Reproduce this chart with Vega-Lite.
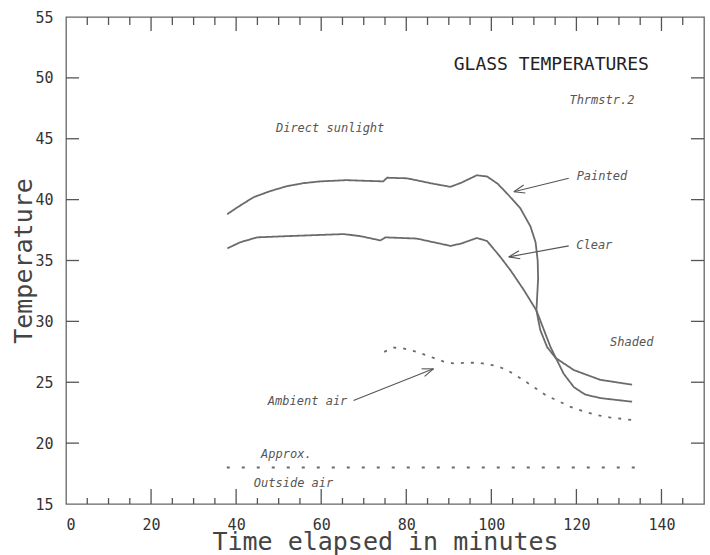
{
  "$schema": "https://vega.github.io/schema/vega-lite/v6.json",
  "width": 638,
  "height": 487,
  "autosize": {"type": "none"},
  "padding": {"left": 66, "top": 17, "right": 6, "bottom": 51},
  "background": "white",
  "config": {
    "view": {"stroke": "#666", "strokeWidth": 1.3},
    "axis": {"grid": false, "ticks": false, "domain": false, "labelColor": "#333", "titleColor": "#444", "labelFont": "DejaVu Sans Mono", "titleFont": "DejaVu Sans Mono", "titleFontWeight": "normal"}
  },
  "datasets": {
    "curves": [
      {"series": "Painted", "i": 1, "t": 37.9, "temp": 38.8},
      {"series": "Painted", "i": 2, "t": 40, "temp": 39.3},
      {"series": "Painted", "i": 3, "t": 44.1, "temp": 40.2},
      {"series": "Painted", "i": 4, "t": 48, "temp": 40.7},
      {"series": "Painted", "i": 5, "t": 51.9, "temp": 41.1},
      {"series": "Painted", "i": 6, "t": 55.8, "temp": 41.35},
      {"series": "Painted", "i": 7, "t": 59.8, "temp": 41.5},
      {"series": "Painted", "i": 8, "t": 66, "temp": 41.6},
      {"series": "Painted", "i": 9, "t": 70, "temp": 41.55},
      {"series": "Painted", "i": 10, "t": 74.6, "temp": 41.5},
      {"series": "Painted", "i": 11, "t": 75.5, "temp": 41.8},
      {"series": "Painted", "i": 12, "t": 80.2, "temp": 41.75},
      {"series": "Painted", "i": 13, "t": 86.4, "temp": 41.3},
      {"series": "Painted", "i": 14, "t": 90.4, "temp": 41.05},
      {"series": "Painted", "i": 15, "t": 93, "temp": 41.4},
      {"series": "Painted", "i": 16, "t": 96.6, "temp": 42.0},
      {"series": "Painted", "i": 17, "t": 99, "temp": 41.9},
      {"series": "Painted", "i": 18, "t": 101.5, "temp": 41.3},
      {"series": "Painted", "i": 19, "t": 103.7, "temp": 40.5},
      {"series": "Painted", "i": 20, "t": 106.8, "temp": 39.3},
      {"series": "Painted", "i": 21, "t": 109.2, "temp": 37.8},
      {"series": "Painted", "i": 22, "t": 110.4, "temp": 36.5},
      {"series": "Painted", "i": 23, "t": 110.9, "temp": 35.0},
      {"series": "Painted", "i": 24, "t": 111.0, "temp": 33.5},
      {"series": "Painted", "i": 25, "t": 110.8, "temp": 32.2},
      {"series": "Painted", "i": 26, "t": 110.6, "temp": 30.9},
      {"series": "Painted", "i": 27, "t": 111.5, "temp": 29.3},
      {"series": "Painted", "i": 28, "t": 113.1, "temp": 27.9},
      {"series": "Painted", "i": 29, "t": 115.1, "temp": 27.0},
      {"series": "Painted", "i": 30, "t": 119.4, "temp": 26.0},
      {"series": "Painted", "i": 31, "t": 125.6, "temp": 25.2},
      {"series": "Painted", "i": 32, "t": 133.1, "temp": 24.8},
      {"series": "Clear", "i": 1, "t": 37.95, "temp": 36.0},
      {"series": "Clear", "i": 2, "t": 41, "temp": 36.5},
      {"series": "Clear", "i": 3, "t": 44.9, "temp": 36.9},
      {"series": "Clear", "i": 4, "t": 51.9, "temp": 37.0},
      {"series": "Clear", "i": 5, "t": 59.8, "temp": 37.1},
      {"series": "Clear", "i": 6, "t": 65.3, "temp": 37.17},
      {"series": "Clear", "i": 7, "t": 69.2, "temp": 37.0},
      {"series": "Clear", "i": 8, "t": 73.9, "temp": 36.65},
      {"series": "Clear", "i": 9, "t": 75.1, "temp": 36.9},
      {"series": "Clear", "i": 10, "t": 82.5, "temp": 36.8},
      {"series": "Clear", "i": 11, "t": 86.4, "temp": 36.5},
      {"series": "Clear", "i": 12, "t": 90.4, "temp": 36.2},
      {"series": "Clear", "i": 13, "t": 93, "temp": 36.4},
      {"series": "Clear", "i": 14, "t": 96.6, "temp": 36.85},
      {"series": "Clear", "i": 15, "t": 99, "temp": 36.6},
      {"series": "Clear", "i": 16, "t": 102.1, "temp": 35.3},
      {"series": "Clear", "i": 17, "t": 104.5, "temp": 34.2},
      {"series": "Clear", "i": 18, "t": 107.6, "temp": 32.6},
      {"series": "Clear", "i": 19, "t": 110.6, "temp": 30.9},
      {"series": "Clear", "i": 20, "t": 113.9, "temp": 27.9},
      {"series": "Clear", "i": 21, "t": 117, "temp": 25.7},
      {"series": "Clear", "i": 22, "t": 119.4, "temp": 24.6},
      {"series": "Clear", "i": 23, "t": 122, "temp": 24.0},
      {"series": "Clear", "i": 24, "t": 125.6, "temp": 23.7},
      {"series": "Clear", "i": 25, "t": 133.1, "temp": 23.4},
      {"series": "Ambient", "i": 1, "t": 74.8, "temp": 27.5},
      {"series": "Ambient", "i": 2, "t": 77, "temp": 27.85},
      {"series": "Ambient", "i": 3, "t": 79, "temp": 27.8},
      {"series": "Ambient", "i": 4, "t": 82.5, "temp": 27.5},
      {"series": "Ambient", "i": 5, "t": 86.4, "temp": 27.0},
      {"series": "Ambient", "i": 6, "t": 88.8, "temp": 26.7},
      {"series": "Ambient", "i": 7, "t": 91, "temp": 26.55},
      {"series": "Ambient", "i": 8, "t": 94.3, "temp": 26.6},
      {"series": "Ambient", "i": 9, "t": 97, "temp": 26.6},
      {"series": "Ambient", "i": 10, "t": 99, "temp": 26.5},
      {"series": "Ambient", "i": 11, "t": 101.5, "temp": 26.3},
      {"series": "Ambient", "i": 12, "t": 103.7, "temp": 26.0},
      {"series": "Ambient", "i": 13, "t": 107, "temp": 25.3},
      {"series": "Ambient", "i": 14, "t": 110, "temp": 24.6},
      {"series": "Ambient", "i": 15, "t": 113, "temp": 23.9},
      {"series": "Ambient", "i": 16, "t": 115.5, "temp": 23.5},
      {"series": "Ambient", "i": 17, "t": 118.5, "temp": 23.0},
      {"series": "Ambient", "i": 18, "t": 121.7, "temp": 22.6},
      {"series": "Ambient", "i": 19, "t": 125, "temp": 22.3},
      {"series": "Ambient", "i": 20, "t": 128, "temp": 22.1},
      {"series": "Ambient", "i": 21, "t": 133.1, "temp": 21.9},
      {"series": "Outside", "i": 1, "t": 37.8, "temp": 18.0},
      {"series": "Outside", "i": 2, "t": 134.3, "temp": 18.0}
    ],
    "arrows": [
      {"x": 118.2, "y": 41.75, "x2": 105.3, "y2": 40.65},
      {"x": 105.3, "y": 40.65, "x2": 108.0, "y2": 40.54},
      {"x": 105.3, "y": 40.65, "x2": 107.6, "y2": 41.2},
      {"x": 118.2, "y": 36.2, "x2": 104.1, "y2": 35.3},
      {"x": 104.1, "y": 35.3, "x2": 106.8, "y2": 35.14},
      {"x": 104.1, "y": 35.3, "x2": 106.5, "y2": 35.8},
      {"x": 67.6, "y": 23.5, "x2": 86.4, "y2": 26.1},
      {"x": 86.4, "y": 26.1, "x2": 83.6, "y2": 26.1},
      {"x": 86.4, "y": 26.1, "x2": 84.3, "y2": 25.48}
    ],
    "labels": [
      {"text": "Direct sunlight", "t": 62.1, "temp": 45.9},
      {"text": "Thrmstr.2", "t": 126.0, "temp": 48.2},
      {"text": "Painted", "t": 126.0, "temp": 41.9},
      {"text": "Clear", "t": 124.2, "temp": 36.3},
      {"text": "Shaded", "t": 133.0, "temp": 28.3},
      {"text": "Ambient air", "t": 56.8, "temp": 23.5},
      {"text": "Approx.", "t": 51.8, "temp": 19.07},
      {"text": "Outside air", "t": 53.5, "temp": 16.7}
    ],
    "title": [
      {"text": "GLASS TEMPERATURES", "t": 114.1, "temp": 51.05}
    ],
    "xticks": [
      {"v": 5, "kind": "minor"}, {"v": 10, "kind": "minor"}, {"v": 15, "kind": "minor"}, {"v": 20, "kind": "major"},
      {"v": 25, "kind": "minor"}, {"v": 30, "kind": "minor"}, {"v": 35, "kind": "minor"}, {"v": 40, "kind": "major"},
      {"v": 45, "kind": "minor"}, {"v": 50, "kind": "minor"}, {"v": 55, "kind": "minor"}, {"v": 60, "kind": "major"},
      {"v": 65, "kind": "minor"}, {"v": 70, "kind": "minor"}, {"v": 75, "kind": "minor"}, {"v": 80, "kind": "major"},
      {"v": 85, "kind": "minor"}, {"v": 90, "kind": "minor"}, {"v": 95, "kind": "minor"}, {"v": 100, "kind": "major"},
      {"v": 105, "kind": "minor"}, {"v": 110, "kind": "minor"}, {"v": 115, "kind": "minor"}, {"v": 120, "kind": "major"},
      {"v": 125, "kind": "minor"}, {"v": 130, "kind": "minor"}, {"v": 135, "kind": "minor"}, {"v": 140, "kind": "major"},
      {"v": 145, "kind": "minor"}
    ],
    "yticks": [
      {"v": 20}, {"v": 25}, {"v": 30}, {"v": 35}, {"v": 40}, {"v": 45}, {"v": 50}
    ]
  },
  "layer": [
    {
      "data": {"name": "curves"},
      "mark": {"type": "line", "color": "#6b6b6b", "strokeWidth": 1.8, "interpolate": "linear"},
      "encoding": {
        "x": {
          "field": "t", "type": "quantitative",
          "scale": {"domain": [0, 150], "nice": false, "zero": false},
          "axis": {
            "orient": "bottom",
            "values": [0, 20, 40, 60, 80, 100, 120, 140],
            "labelFontSize": 15,
            "labelPadding": 13,
            "title": "Time elapsed in minutes",
            "titleFontSize": 25,
            "titlePadding": -3
          }
        },
        "y": {
          "field": "temp", "type": "quantitative",
          "scale": {"domain": [15, 55], "nice": false, "zero": false},
          "axis": {
            "orient": "left",
            "values": [15, 20, 25, 30, 35, 40, 45, 50, 55],
            "labelFontSize": 15,
            "labelPadding": 13,
            "title": "Temperature",
            "titleFontSize": 25,
            "titlePadding": -2
          }
        },
        "detail": {"field": "series"},
        "order": {"field": "i"},
        "strokeDash": {
          "field": "series", "type": "nominal",
          "scale": {"domain": ["Painted", "Clear", "Ambient", "Outside"], "range": [[1, 0], [1, 0], [3, 7], [3, 12]]},
          "legend": null
        }
      }
    },
    {
      "data": {"name": "xticks"},
      "transform": [{"filter": "datum.kind === 'major'"}],
      "mark": {"type": "tick", "orient": "vertical", "size": 15, "thickness": 1.3, "yOffset": -7.5, "color": "#555", "opacity": 1},
      "encoding": {
        "x": {"field": "v", "type": "quantitative", "axis": null},
        "y": {"datum": 15, "type": "quantitative", "axis": null}
      }
    },
    {
      "data": {"name": "xticks"},
      "transform": [{"filter": "datum.kind === 'minor'"}],
      "mark": {"type": "tick", "orient": "vertical", "size": 6, "thickness": 1.3, "yOffset": -3, "color": "#555", "opacity": 1},
      "encoding": {
        "x": {"field": "v", "type": "quantitative", "axis": null},
        "y": {"datum": 15, "type": "quantitative", "axis": null}
      }
    },
    {
      "data": {"name": "xticks"},
      "transform": [{"filter": "datum.kind === 'major'"}],
      "mark": {"type": "tick", "orient": "vertical", "size": 14, "thickness": 1.3, "yOffset": 7, "color": "#555", "opacity": 1},
      "encoding": {
        "x": {"field": "v", "type": "quantitative", "axis": null},
        "y": {"datum": 55, "type": "quantitative", "axis": null}
      }
    },
    {
      "data": {"name": "xticks"},
      "transform": [{"filter": "datum.kind === 'minor'"}],
      "mark": {"type": "tick", "orient": "vertical", "size": 8, "thickness": 1.3, "yOffset": 4, "color": "#555", "opacity": 1},
      "encoding": {
        "x": {"field": "v", "type": "quantitative", "axis": null},
        "y": {"datum": 55, "type": "quantitative", "axis": null}
      }
    },
    {
      "data": {"name": "yticks"},
      "mark": {"type": "tick", "orient": "horizontal", "size": 13, "thickness": 1.3, "xOffset": 6.5, "color": "#555", "opacity": 1},
      "encoding": {
        "y": {"field": "v", "type": "quantitative", "axis": null},
        "x": {"datum": 0, "type": "quantitative", "axis": null}
      }
    },
    {
      "data": {"name": "yticks"},
      "mark": {"type": "tick", "orient": "horizontal", "size": 13, "thickness": 1.3, "xOffset": -6.5, "color": "#555", "opacity": 1},
      "encoding": {
        "y": {"field": "v", "type": "quantitative", "axis": null},
        "x": {"datum": 150, "type": "quantitative", "axis": null}
      }
    },
    {
      "data": {"name": "arrows"},
      "mark": {"type": "rule", "color": "#555", "strokeWidth": 1.1},
      "encoding": {
        "x": {"field": "x", "type": "quantitative", "axis": null},
        "y": {"field": "y", "type": "quantitative", "axis": null},
        "x2": {"field": "x2"},
        "y2": {"field": "y2"}
      }
    },
    {
      "data": {"name": "labels"},
      "mark": {"type": "text", "font": "DejaVu Sans Mono", "fontStyle": "italic", "fontSize": 12, "color": "#555", "align": "center", "baseline": "middle"},
      "encoding": {
        "x": {"field": "t", "type": "quantitative", "axis": null},
        "y": {"field": "temp", "type": "quantitative", "axis": null},
        "text": {"field": "text"}
      }
    },
    {
      "data": {"name": "title"},
      "mark": {"type": "text", "font": "DejaVu Sans Mono", "fontSize": 18, "color": "#222", "align": "center", "baseline": "middle"},
      "encoding": {
        "x": {"field": "t", "type": "quantitative", "axis": null},
        "y": {"field": "temp", "type": "quantitative", "axis": null},
        "text": {"field": "text"}
      }
    }
  ],
  "resolve": {"axis": {"x": "independent", "y": "independent"}}
}
